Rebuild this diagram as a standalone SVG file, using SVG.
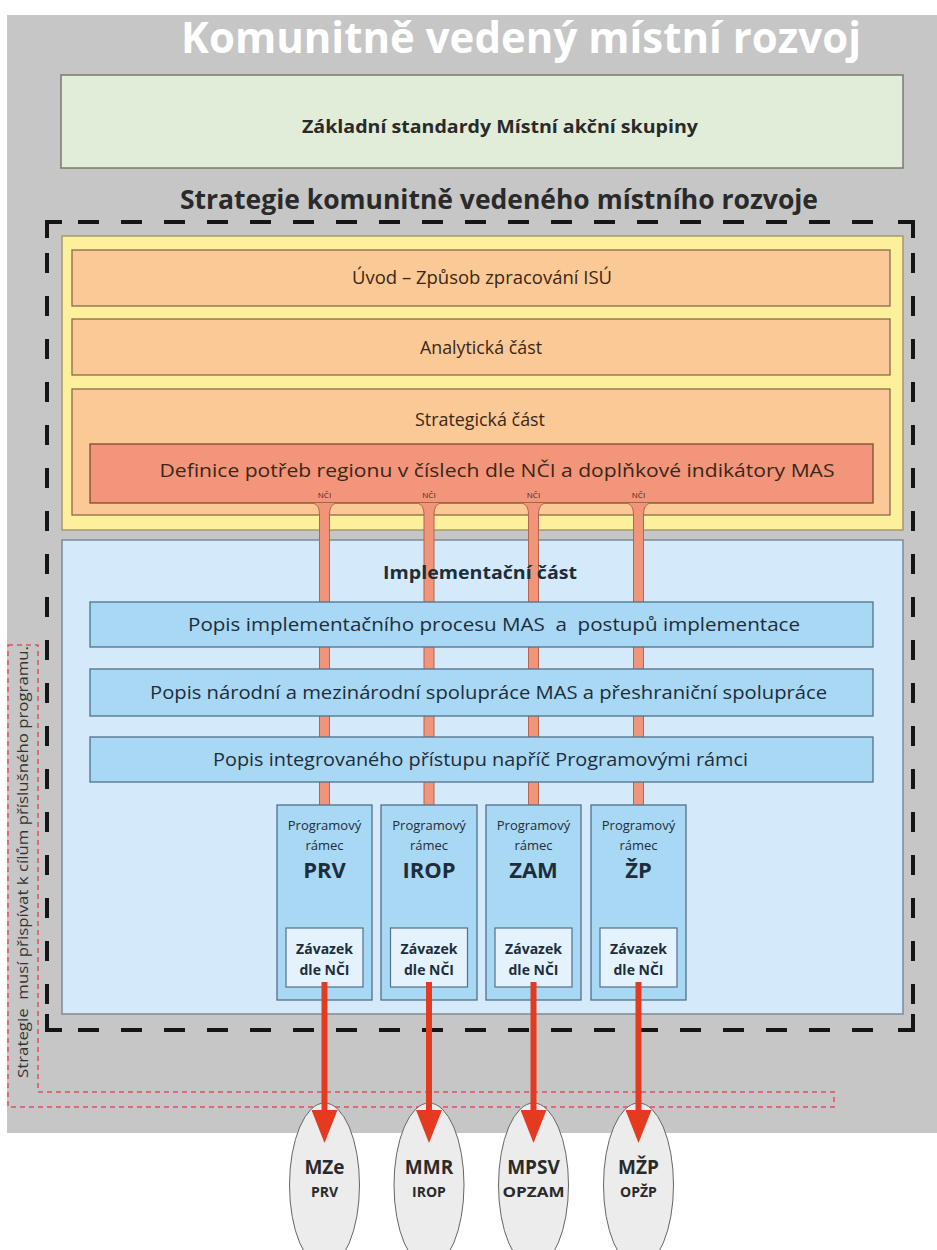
<svg xmlns="http://www.w3.org/2000/svg" width="937" height="1250" viewBox="0 0 937 1250">
<defs>
<style>
text{font-family:"Open Sans","Noto Sans","Liberation Sans",sans-serif;text-anchor:middle;white-space:pre}
.b{font-weight:bold}
.t17{font-size:17px}
.t18{font-size:18px}
.or{fill:#fbc995;stroke:#8b6b45;stroke-width:1.3}
.pop{fill:#a9d8f4;stroke:#51708a;stroke-width:1.3}
.zav{fill:#e3f2fc;stroke:#51708a;stroke-width:1.2}
.bar{fill:#f0957a}
.barside{fill:none;stroke:#b5654b;stroke-width:1}
.frame{fill:none;stroke:#151515;stroke-width:4}
.arrow{stroke:#e43a20;stroke-width:6;fill:none}
.ell{fill:#ececec;stroke:#666;stroke-width:1}
.dk{fill:#2a2a2a}
.bl{fill:#1d2d3b}
.br{fill:#3a2718}
</style>
<marker id="head" markerUnits="userSpaceOnUse" viewBox="0 -13 33 26" refX="0" refY="0" markerWidth="33" markerHeight="26" orient="auto">
<path d="M0,-13 L33,0 L0,13 Z" fill="#e43a20"/>
</marker>
</defs>

<rect x="7" y="15" width="930" height="1118" fill="#c6c6c6"/>
<text x="521" y="53" class="b" font-size="43" fill="#ffffff" textLength="680" lengthAdjust="spacingAndGlyphs">Komunitně vedený místní rozvoj</text>

<g id="standardy">
<rect x="61" y="75" width="842" height="93" fill="#e2edd9" stroke="#7a7a6e" stroke-width="1.5"/>
<text x="500" y="133" class="b t18 dk" textLength="396" lengthAdjust="spacingAndGlyphs">Základní standardy Místní akční skupiny</text>
</g>

<text x="499" y="209" class="b dk" font-size="26" textLength="638" lengthAdjust="spacingAndGlyphs">Strategie komunitně vedeného místního rozvoje</text>

<g id="ramec-strategie">
<path class="frame" d="M47,238 V222 H62 M898,222 H913 V238 M47,1014 V1030 H62 M898,1030 H913 V1014"/>
<path class="frame" stroke-dasharray="21 22" d="M78,222 H890 M78,1030 H890"/>
<path class="frame" stroke-dasharray="20 23" d="M47,253 V1005 M913,253 V1005"/>
</g>

<g id="prispivani">
<polygon points="8,645 38,645 38,1092 834,1092 834,1107 8,1107" fill="none" stroke="#e0505f" stroke-width="1.5" stroke-dasharray="5 4"/>
<text transform="translate(28,862) rotate(-90)" font-size="14" fill="#333" textLength="432" lengthAdjust="spacingAndGlyphs">Strategie  musí přispívat k cílům příslušného programu.</text>
</g>

<g id="strategicka-oblast">
<rect x="62" y="236" width="841" height="294" fill="#fcf09c" stroke="#a49a6a" stroke-width="1.5"/>
</g>
<g id="uvod">
<rect class="or" x="72" y="250" width="818" height="56"/>
<text x="482" y="284" class="t18 br" textLength="260" lengthAdjust="spacingAndGlyphs">Úvod – Způsob zpracování ISÚ</text>
</g>
<g id="analyticka">
<rect class="or" x="72" y="319" width="818" height="56"/>
<text x="481" y="354" class="t18 br" textLength="122" lengthAdjust="spacingAndGlyphs">Analytická část</text>
</g>
<g id="strategicka">
<rect class="or" x="72" y="389" width="818" height="126"/>
<text x="480" y="426" class="t18 br" textLength="130" lengthAdjust="spacingAndGlyphs">Strategická část</text>
</g>
<g id="definice">
<rect x="90" y="444" width="783" height="59" fill="#f3957b" stroke="#7e4a33" stroke-width="1.3"/>
<text x="497" y="477" class="t18 br" textLength="675" lengthAdjust="spacingAndGlyphs">Definice potřeb regionu v číslech dle NČI a doplňkové indikátory MAS</text>
</g>

<g id="implementacni">
<rect x="62" y="540" width="841" height="474" fill="#d4eafa" stroke="#7c8b96" stroke-width="1.5"/>
</g>

<g id="connectors">
<g id="nci-prv">
<path class="bar" d="M313,503 Q319.5,505 319.5,514 V805 H329.5 V514 Q329.5,505 336,503 Z"/>
<path class="barside" d="M313,503 Q319.5,505 319.5,514 V805 M336,503 Q329.5,505 329.5,514 V805"/>
<text x="324.5" y="498" font-size="8" class="br">NČI</text>
</g>
<g id="nci-irop">
<path class="bar" d="M417.5,503 Q424,505 424,514 V805 H434 V514 Q434,505 440.5,503 Z"/>
<path class="barside" d="M417.5,503 Q424,505 424,514 V805 M440.5,503 Q434,505 434,514 V805"/>
<text x="429" y="498" font-size="8" class="br">NČI</text>
</g>
<g id="nci-zam">
<path class="bar" d="M522,503 Q528.5,505 528.5,514 V805 H538.5 V514 Q538.5,505 545,503 Z"/>
<path class="barside" d="M522,503 Q528.5,505 528.5,514 V805 M545,503 Q538.5,505 538.5,514 V805"/>
<text x="533.5" y="498" font-size="8" class="br">NČI</text>
</g>
<g id="nci-zp">
<path class="bar" d="M627,503 Q633.5,505 633.5,514 V805 H643.5 V514 Q643.5,505 650,503 Z"/>
<path class="barside" d="M627,503 Q633.5,505 633.5,514 V805 M650,503 Q643.5,505 643.5,514 V805"/>
<text x="638.5" y="498" font-size="8" class="br">NČI</text>
</g>
</g>

<g id="implementacni-nadpis">
<text x="480" y="579" class="b t18 bl" textLength="194" lengthAdjust="spacingAndGlyphs">Implementační část</text>
</g>

<g id="popis-implementace">
<rect class="pop" x="90" y="602" width="783" height="45"/>
<text x="494" y="631" class="t18 bl" textLength="612" lengthAdjust="spacingAndGlyphs">Popis implementačního procesu MAS  a  postupů implementace</text>
</g>
<g id="popis-spoluprace">
<rect class="pop" x="90" y="669" width="783" height="47"/>
<text x="488.5" y="699" class="t18 bl" textLength="677" lengthAdjust="spacingAndGlyphs">Popis národní a mezinárodní spolupráce MAS a přeshraniční spolupráce</text>
</g>
<g id="popis-integrovaneho">
<rect class="pop" x="90" y="737" width="783" height="45"/>
<text x="480.5" y="766" class="t18 bl" textLength="535" lengthAdjust="spacingAndGlyphs">Popis integrovaného přístupu napříč Programovými rámci</text>
</g>

<g id="pr-prv">
<rect class="pop" x="277" y="805" width="95" height="195"/>
<text x="324.5" y="830" font-size="13" class="bl">Programový</text>
<text x="324.5" y="850" font-size="13" class="bl">rámec</text>
<text x="324.5" y="878" font-size="22" class="b bl">PRV</text>
<rect class="zav" x="286" y="928" width="77" height="59"/>
<text x="324.5" y="954" font-size="14" class="b bl">Závazek</text>
<text x="324.5" y="975" font-size="14" class="b bl">dle NČI</text>
</g>
<g id="pr-irop">
<rect class="pop" x="381" y="805" width="96" height="195"/>
<text x="429" y="830" font-size="13" class="bl">Programový</text>
<text x="429" y="850" font-size="13" class="bl">rámec</text>
<text x="429" y="878" font-size="22" class="b bl">IROP</text>
<rect class="zav" x="390.5" y="928" width="77" height="59"/>
<text x="429" y="954" font-size="14" class="b bl">Závazek</text>
<text x="429" y="975" font-size="14" class="b bl">dle NČI</text>
</g>
<g id="pr-zam">
<rect class="pop" x="486" y="805" width="95" height="195"/>
<text x="533.5" y="830" font-size="13" class="bl">Programový</text>
<text x="533.5" y="850" font-size="13" class="bl">rámec</text>
<text x="533.5" y="878" font-size="22" class="b bl">ZAM</text>
<rect class="zav" x="495" y="928" width="77" height="59"/>
<text x="533.5" y="954" font-size="14" class="b bl">Závazek</text>
<text x="533.5" y="975" font-size="14" class="b bl">dle NČI</text>
</g>
<g id="pr-zp">
<rect class="pop" x="591" y="805" width="95" height="195"/>
<text x="638.5" y="830" font-size="13" class="bl">Programový</text>
<text x="638.5" y="850" font-size="13" class="bl">rámec</text>
<text x="638.5" y="878" font-size="22" class="b bl">ŽP</text>
<rect class="zav" x="600" y="928" width="77" height="59"/>
<text x="638.5" y="954" font-size="14" class="b bl">Závazek</text>
<text x="638.5" y="975" font-size="14" class="b bl">dle NČI</text>
</g>

<g id="mze">
<ellipse class="ell" cx="324.5" cy="1185" rx="35" ry="82"/>
<text x="324.5" y="1174" font-size="19" class="b dk">MZe</text>
<text x="324.5" y="1197" font-size="14" class="b dk">PRV</text>
</g>
<g id="mmr">
<ellipse class="ell" cx="429" cy="1185" rx="35" ry="82"/>
<text x="429" y="1174" font-size="19" class="b dk">MMR</text>
<text x="429" y="1197" font-size="14" class="b dk">IROP</text>
</g>
<g id="mpsv">
<ellipse class="ell" cx="533.5" cy="1185" rx="35" ry="82"/>
<text x="533.5" y="1174" font-size="19" class="b dk">MPSV</text>
<text x="533.5" y="1197" font-size="14" class="b dk" textLength="62" lengthAdjust="spacingAndGlyphs">OPZAM</text>
</g>
<g id="mzp">
<ellipse class="ell" cx="638.5" cy="1185" rx="35" ry="82"/>
<text x="638.5" y="1174" font-size="19" class="b dk">MŽP</text>
<text x="638.5" y="1197" font-size="14" class="b dk">OPŽP</text>
</g>

<g id="arrows">
<path class="arrow" d="M324.5,982 V1110" marker-end="url(#head)"/>
<path class="arrow" d="M429,982 V1110" marker-end="url(#head)"/>
<path class="arrow" d="M533.5,982 V1110" marker-end="url(#head)"/>
<path class="arrow" d="M638.5,982 V1110" marker-end="url(#head)"/>
</g>
</svg>
